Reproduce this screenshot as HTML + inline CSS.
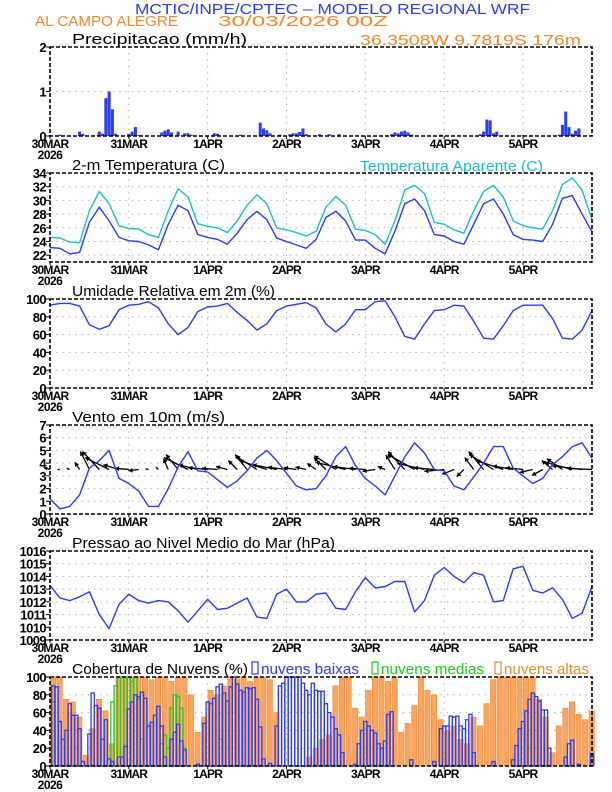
<!DOCTYPE html>
<html><head><meta charset="utf-8"><style>
html,body{margin:0;padding:0;background:#fff;}
svg{display:block;font-family:"Liberation Sans",sans-serif;}
</style></head><body>
<svg id="chart" width="612" height="792" viewBox="0 0 612 792" xmlns="http://www.w3.org/2000/svg">
<text x="135" y="14" textLength="395" lengthAdjust="spacingAndGlyphs" font-size="15" fill="#2b3cf5">MCTIC/INPE/CPTEC – MODELO REGIONAL WRF</text>
<text x="35" y="26" textLength="143" lengthAdjust="spacingAndGlyphs" font-size="15" fill="#f08a30">AL CAMPO ALEGRE</text>
<text x="218" y="26" textLength="170" lengthAdjust="spacingAndGlyphs" font-size="15" fill="#f08a30">30/03/2026 00Z</text>
<text x="360" y="45" textLength="221" lengthAdjust="spacingAndGlyphs" font-size="15" fill="#f08a30">36.3508W 9.7819S 176m</text>
<text x="360" y="171" textLength="183" lengthAdjust="spacingAndGlyphs" font-size="15" fill="#20c0c0">Temperatura Aparente (C)</text>
</svg>
<script>
// ---------- data ----------
const dayLabels = ["30MAR","31MAR","1APR","2APR","3APR","4APR","5APR"];
const precipHours = [3,9,10,15,16,17,18,19,20,24,25,26,27,34,35,36,37,39,41,42,43,50,51,58,64,65,66,67,70,73,74,75,76,77,78,82,85,88,104,105,106,107,108,109,110,119,131,132,133,134,135,136,144,155,156,157,158,159,160,161];
const precipVals = [0.03,0.1,0.05,0.1,0.05,0.85,1.0,0.6,0.05,0.05,0.1,0.2,0.02,0.08,0.12,0.15,0.08,0.1,0.06,0.06,0.03,0.06,0.05,0.03,0.3,0.17,0.13,0.06,0.03,0.04,0.06,0.06,0.09,0.17,0.04,0.04,0.04,0.04,0.04,0.08,0.06,0.1,0.12,0.08,0.03,0.03,0.04,0.1,0.37,0.35,0.06,0.1,0.02,0.03,0.25,0.55,0.2,0.05,0.12,0.17];
const tempVals = [23.1,23.0,22.2,22.4,26.8,29.0,27.0,24.6,24.1,24.0,23.5,22.8,26.5,29.3,28.5,25.0,24.6,24.3,23.6,25.2,27.2,28.4,27.2,24.5,24.0,23.5,23.0,24.3,27.5,28.4,27.0,24.2,24.2,23.0,22.2,25.5,29.5,30.2,28.5,25.0,24.8,24.0,23.6,26.5,29.5,30.2,28.0,25.0,24.3,24.2,24.0,26.5,30.3,30.7,28.0,25.4];
const appTempVals = [24.6,24.5,23.9,23.8,28.5,31.3,29.5,26.3,25.9,25.8,25.0,24.6,28.5,31.7,30.5,26.6,26.2,26.0,25.3,27.0,29.3,30.8,29.5,26.0,25.7,25.3,24.8,25.5,29.0,30.6,29.3,25.8,25.6,25.0,23.6,27.0,31.5,32.2,31.0,26.8,26.5,25.7,25.2,28.5,31.3,32.2,30.5,27.0,26.3,26.0,25.8,28.5,32.3,33.3,31.5,27.2];
const rhVals = [93,95,95,92,71,66,70,88,93,94,97,90,72,60,68,86,91,92,95,85,76,65,72,87,92,94,96,90,72,63,72,88,88,97,98,80,58,55,72,87,88,93,92,75,56,55,70,87,93,93,93,78,56,55,65,87];
const windSpeed = [1.2,0.4,0.6,1.5,3.6,4.2,5.0,2.8,2.4,1.8,0.6,0.6,2.0,3.7,4.9,3.4,3.3,2.7,2.1,2.6,3.4,4.4,5.0,4.2,3.2,2.2,1.9,2.0,3.0,4.5,5.3,3.8,2.8,2.2,1.5,3.0,4.5,5.6,4.8,3.5,3.4,2.2,1.9,2.9,4.0,5.3,5.3,3.6,3.0,2.4,2.8,3.9,4.5,5.3,5.6,4.4];
const windU = [-1.0,-0.4,-0.5,-0.8,-1.5,-2.8,-4.0,-2.6,-2.3,-1.7,-0.5,-0.4,-0.8,-2.0,-4.0,-3.2,-3.2,-2.6,-1.9,-1.5,-2.0,-3.5,-4.6,-4.0,-3.1,-2.1,-1.8,-1.5,-2.0,-3.6,-5.0,-3.7,-2.7,-2.1,-1.2,-1.5,-2.8,-4.5,-4.5,-3.4,-3.3,-2.0,-1.2,-1.5,-2.5,-4.0,-4.5,-3.4,-2.9,-2.2,-1.8,-1.8,-2.6,-4.5,-5.0,-4.2];
const windV = [0.3,0.0,0.2,1.2,3.0,3.0,2.0,0.8,0.2,-0.2,0.1,0.4,1.8,2.5,2.0,0.8,0.3,0.2,0.5,1.5,2.5,2.2,1.5,0.8,0.4,0.3,0.4,1.0,2.0,2.3,1.2,0.5,0.2,-0.3,0.5,2.4,3.0,2.5,1.0,0.3,-0.3,-0.8,-1.2,2.0,3.0,2.5,1.5,0.6,0.3,-0.5,-1.0,1.5,1.8,1.2,0.6,0.2];
const pressVals = [1013.3,1012.3,1012.1,1012.4,1012.8,1011.0,1009.9,1011.8,1012.6,1012.1,1011.9,1012.1,1012.0,1011.3,1010.4,1011.3,1012.2,1011.4,1011.5,1011.9,1012.3,1010.8,1010.7,1012.6,1013.0,1012.0,1012.0,1012.6,1012.7,1011.5,1011.4,1012.8,1013.9,1013.1,1013.2,1013.6,1013.6,1011.2,1012.1,1014.1,1014.7,1014.0,1013.5,1014.3,1014.1,1012.0,1012.1,1014.6,1014.8,1012.9,1012.7,1013.1,1012.2,1010.7,1011.1,1013.2];
const highCloud = [100,100,75,72,55,12,42,75,62,25,100,100,100,100,100,97,100,100,95,100,100,80,38,55,85,80,90,100,98,100,95,100,100,97,60,0,0,0,0,10,20,30,35,90,100,100,65,55,85,100,100,95,100,38,48,68,100,85,80,52,40,45,30,25,55,45,70,97,100,100,100,100,100,100,75,55,15,45,65,72,58,52,62];
const lowHours = [1,2,3,4,5,6,7,8,9,10,12,13,14,15,16,17,18,19,21,22,23,24,25,26,27,28,29,30,31,32,33,34,35,37,38,39,40,41,45,47,48,49,50,51,52,53,54,55,56,57,58,59,60,61,62,63,64,65,67,69,70,71,72,73,74,75,76,77,78,79,80,81,82,83,84,85,86,87,88,89,93,94,95,96,97,98,99,100,101,102,103,104,110,117,119,120,121,122,123,124,125,126,127,128,129,135,141,142,143,144,145,146,147,148,149,150,151,152,157,158,159,161,165];
const lowVals = [90,89,50,30,40,70,57,57,42,5,36,82,68,65,30,52,8,5,10,10,22,64,72,80,78,83,76,45,49,57,67,45,10,30,38,47,28,18,2,48,72,70,76,89,92,82,73,89,100,92,85,83,88,87,88,75,44,8,3,45,90,93,100,100,100,100,100,93,85,80,93,85,84,84,70,60,55,42,35,15,2,25,40,50,45,40,37,25,20,28,58,61,7,5,42,45,45,56,55,56,45,42,52,58,15,5,7,23,42,50,62,75,82,78,73,63,63,20,10,25,29,2,14];
const midHours = [1,19,20,21,22,23,24,25,26,27,28,34,35,36,37,38,39,40,41,52];
const midVals = [72,72,90,100,100,100,100,95,100,75,30,25,35,20,65,80,78,65,20,30];

// ---------- layout ----------
const SVGNS = "http://www.w3.org/2000/svg";
const svg = document.getElementById("chart");
const X0 = 50, X1 = 592, HOURS = 165, PH = 89;
const BLUE = "#2b3cf5", CYAN = "#20c0c0";
function xs(h){ return X0 + h * (X1 - X0) / HOURS; }
function mk(tag, attrs, parent){
  const e = document.createElementNS(SVGNS, tag);
  for (const k in attrs) e.setAttribute(k, attrs[k]);
  (parent || svg).appendChild(e);
  return e;
}
function yScale(top, lo, hi){ return v => top + PH - (v - lo) / (hi - lo) * PH; }

function panel(key, top, title, titleLen, lo, hi, ticks, gridVals){
  const g = mk("g", {});
  
  
  const y = yScale(top, lo, hi);
  gridVals.forEach(v => {
    const l = mk("line", {x1:X0, x2:X1, y1:y(v), y2:y(v), stroke:"#aaa", "stroke-width":1, "stroke-dasharray":"1.3,5"}, g);
    
    
  });
  for (let d = 1; d < dayLabels.length; d++) {
    const l = mk("line", {x1:xs(d*24), x2:xs(d*24), y1:top, y2:top+PH, stroke:"#aaa", "stroke-width":1, "stroke-dasharray":"1.3,5"}, g);
    
    
  }
  const t = mk("text", {x:72, y:top-3, "font-size":15, fill:"#000", textLength:titleLen, lengthAdjust:"spacingAndGlyphs"}, g);
  t.textContent = title;
  
  
  ticks.forEach(v => {
    const tl = mk("text", {x:46, y:y(v)+5, "font-size":13, "text-anchor":"end", fill:"#000", "font-weight":"bold", "letter-spacing":"-0.6"}, g);
    tl.textContent = String(v);
    
    
    mk("line", {x1:46, x2:X0, y1:y(v), y2:y(v), stroke:"#000", "stroke-width":1}, g);
  });
  dayLabels.forEach((lab, d) => {
    const xl = mk("text", {x:xs(d*24), y:top+PH+12, "font-size":12, "text-anchor":"middle", fill:"#000", "font-weight":"bold", "letter-spacing":"-0.8"}, g);
    xl.textContent = lab;
    
    
    mk("line", {x1:xs(d*24), x2:xs(d*24), y1:top+PH, y2:top+PH+3, stroke:"#000"}, g);
  });
  const yr = mk("text", {x:xs(0), y:top+PH+23, "font-size":12, "text-anchor":"middle", fill:"#000", "font-weight":"bold", "letter-spacing":"-0.5"}, g);
  yr.textContent = "2026";
  
  
  const plot = mk("g", {}, g);
  
  
  return {g, plot, y, top};
}
function frame(p, key){
  const f = mk("rect", {x:X0, y:p.top, width:X1-X0, height:PH, fill:"none", stroke:"#000", "stroke-width":1.6, "stroke-dasharray":"4,2"}, p.g);
  
  
}
function line(p, vals, color, key){
  const pts = vals.map((v,i) => xs(i*3).toFixed(1) + "," + p.y(v).toFixed(1)).join(" ");
  const l = mk("polyline", {points:pts, fill:"none", stroke:color, "stroke-width":1.4, "stroke-linejoin":"round"}, p.plot);
  
  
}

// precipitation
const pP = panel("precip", 47, "Precipitacao (mm/h)", 175, 0, 2, [0,1,2], [1]);
precipHours.forEach((h,i) => {
  const r = mk("rect", {x:xs(h)-1.5, y:pP.y(precipVals[i]), width:3, height:pP.y(0)-pP.y(precipVals[i]), fill:BLUE}, pP.plot);
  
  
});
frame(pP, "precip");

// temperature
const pT = panel("temp", 173, "2-m Temperatura (C)", 153, 21, 34, [22,24,26,28,30,32,34], [22,24,26,28,30,32]);
line(pT, appTempVals, CYAN, "apparent-temp-line");
line(pT, tempVals, BLUE, "temp-line");
frame(pT, "temp");

// humidity
const pH = panel("rh", 299, "Umidade Relativa em 2m (%)", 203, 0, 100, [0,20,40,60,80,100], [20,40,60,80]);
line(pH, rhVals, BLUE, "rh-line");
frame(pH, "rh");

// wind
const pW = panel("wind", 425, "Vento em 10m (m/s)", 153, 0, 7, [0,1,2,3,4,5,6,7], [1,2,3,4,5,6]);
const SC = 6;
windU.forEach((u,i) => {
  const bx = xs(i*3), by = pW.y(3.5);
  const tx = bx + u*SC, ty = by - windV[i]*SC;
  const ag = mk("g", {}, pW.plot);
  
  
  mk("line", {x1:bx, y1:by, x2:tx, y2:ty, stroke:"#000", "stroke-width":1.3}, ag);
  const len = Math.hypot(tx-bx, ty-by) || 1;
  const ux = (tx-bx)/len, uy = (ty-by)/len, hl = Math.min(4, len*0.5);
  const p1 = [tx - ux*hl - uy*hl*0.6, ty - uy*hl + ux*hl*0.6];
  const p2 = [tx - ux*hl + uy*hl*0.6, ty - uy*hl - ux*hl*0.6];
  mk("polygon", {points:`${tx},${ty} ${p1[0]},${p1[1]} ${p2[0]},${p2[1]}`, fill:"#000"}, ag);
});
line(pW, windSpeed, BLUE, "wind-speed-line");
frame(pW, "wind");

// pressure
const pS = panel("pressure", 551, "Pressao ao Nivel Medio do Mar (hPa)", 263, 1009, 1016, [1009,1010,1011,1012,1013,1014,1015,1016], [1010,1011,1012,1013,1014,1015]);
line(pS, pressVals, BLUE, "pressure-line");
frame(pS, "pressure");

// clouds
const pC = panel("cloud", 677, "Cobertura de Nuvens (%)", 176, 0, 100, [0,20,40,60,80,100], [20,40,60,80]);
highCloud.forEach((v,i) => {
  if (v <= 0) return;
  const r = mk("rect", {x:xs(i*2)+0.3, y:pC.y(v), width:xs(2)-X0-1.2, height:pC.y(0)-pC.y(v), fill:"#f7a560", stroke:"#f08a30", "stroke-width":0.6}, pC.plot);
  
  
});
midHours.forEach((h,i) => {
  const r = mk("rect", {x:xs(h)-1.6, y:pC.y(midVals[i]), width:3.2, height:pC.y(0)-pC.y(midVals[i]), fill:"none", stroke:"#22cc22", "stroke-width":1.3}, pC.plot);
  
  
});
lowHours.forEach((h,i) => {
  const r = mk("rect", {x:xs(h)-1.6, y:pC.y(lowVals[i]), width:3.2, height:pC.y(0)-pC.y(lowVals[i]), fill:"none", stroke:BLUE, "stroke-width":1.3}, pC.plot);
  
  
});
frame(pC, "cloud");
const legendItems = [["nuvens baixas", BLUE, 252, 98], ["nuvens medias", "#22cc22", 372, 103], ["nuvens altas", "#f08a30", 495, 85]];
legendItems.forEach(it => {
  const lg = mk("g", {});
  
  
  mk("rect", {x:it[2], y:662, width:6, height:12, fill:"none", stroke:it[1], "stroke-width":1.2}, lg);
  const t = mk("text", {x:it[2]+9, y:674, "font-size":15, fill:it[1], textLength:it[3], lengthAdjust:"spacingAndGlyphs"}, lg);
  t.textContent = it[0];
});
</script>
</body></html>
